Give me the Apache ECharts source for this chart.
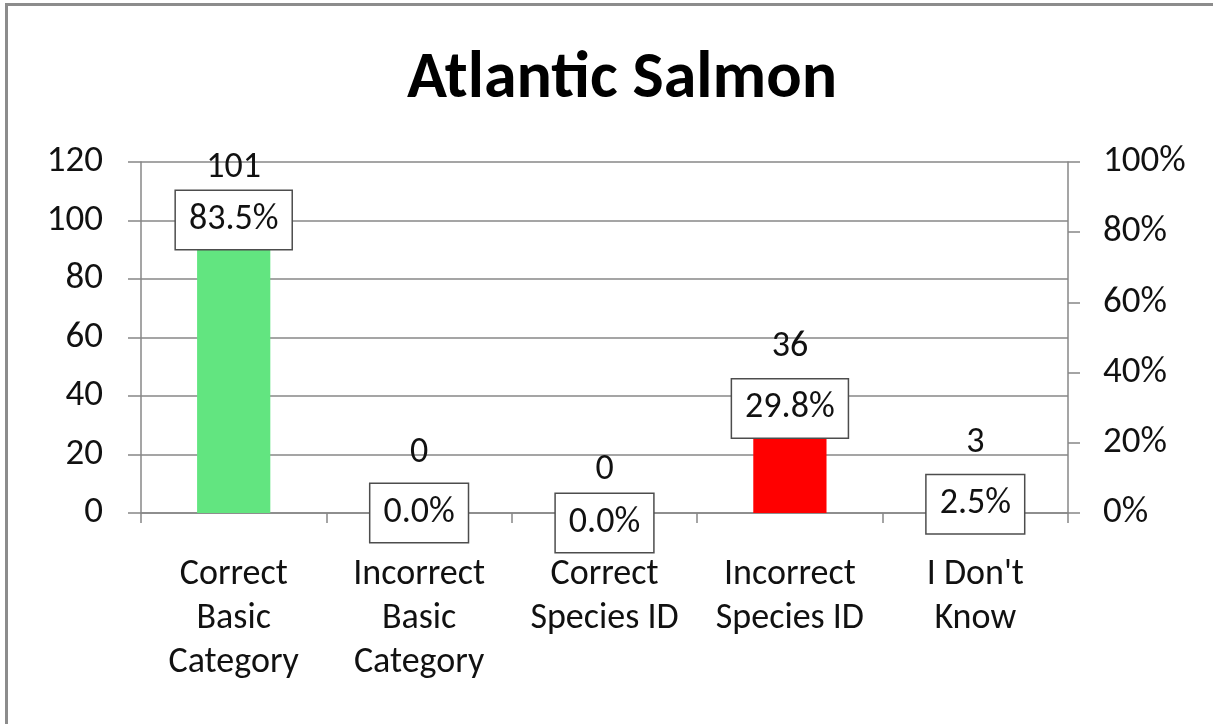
<!DOCTYPE html>
<html>
<head>
<meta charset="utf-8">
<title>Atlantic Salmon</title>
<script src="https://cdn.jsdelivr.net/npm/echarts@6/dist/echarts.min.js"></script>
<style>
  html, body { margin: 0; padding: 0; background: #fff; }
  #chart { width: 1213px; height: 724px; }
</style>
</head>
<body>
<div id="chart"></div>
<script>
// Response categories
const categories = [
  'Correct\nBasic\nCategory',
  'Incorrect\nBasic\nCategory',
  'Correct\nSpecies ID',
  'Incorrect\nSpecies ID',
  "I Don't\nKnow"
];
// Number of responses per category
const counts = [101, 0, 0, 36, 3];
// Share of respondents per category (%)
const percents = [83.5, 0.0, 0.0, 29.8, 2.5];
// Bar colours per category
const barColors = ['#62E580', '#62E580', '#62E580', '#FF0000', '#62E580'];
// Axis ticks
const countTicks = { min: 0, max: 120, interval: 20 };
const percentTicks = { min: 0, max: 100, interval: 20 };

const FONT = 'Carlito, Calibri, Lato, "Noto Sans", sans-serif';
const GRID_GRAY = '#878787';
const TEXT = '#111111';
// vertical label nudges (px) so boxes and counts don't collide
const countLift = [-52, -60, -43, -61, -61];
const boxDrop = [0, 0, 10, 0, 0];

const chart = echarts.init(document.getElementById('chart'), null, { renderer: 'canvas' });

chart.setOption({
  backgroundColor: '#ffffff',
  animation: false,
  textStyle: { fontFamily: FONT },
  title: {
    text: 'Atlantic Salmon',
    left: 617,
    textAlign: 'center',
    top: 42,
    textStyle: { fontFamily: FONT, fontSize: 66, fontWeight: 'bold', color: '#000' }
  },
  graphic: [{
    type: 'polyline',
    shape: { points: [[6.5, 724], [6.5, 4.5], [1213, 4.5]] },
    style: { stroke: '#8c8c8c', lineWidth: 3, fill: null },
    z: 100
  }],
  grid: { left: 141, right: 145, top: 162, bottom: 211 },
  xAxis: {
    type: 'category',
    data: categories,
    boundaryGap: true,
    axisLine: { show: true, lineStyle: { color: GRID_GRAY, width: 1.5 } },
    axisTick: { show: true, alignWithLabel: false, length: 10, lineStyle: { color: GRID_GRAY, width: 1.5 } },
    axisLabel: { interval: 0, margin: 40, fontSize: 36, lineHeight: 44, color: TEXT, fontFamily: FONT }
  },
  yAxis: [{
    type: 'value',
    min: countTicks.min, max: countTicks.max, interval: countTicks.interval,
    position: 'left',
    axisLine: { show: true, lineStyle: { color: GRID_GRAY, width: 1.5 } },
    axisTick: { show: true, length: 13, lineStyle: { color: GRID_GRAY, width: 1.5 } },
    axisLabel: { margin: 38, fontSize: 37, color: TEXT, fontFamily: FONT },
    splitLine: { show: true, lineStyle: { color: GRID_GRAY, width: 1.5 } }
  }, {
    type: 'value',
    min: percentTicks.min, max: percentTicks.max, interval: percentTicks.interval,
    position: 'right',
    axisLine: { show: true, lineStyle: { color: GRID_GRAY, width: 1.5 } },
    axisTick: { show: true, length: 12, lineStyle: { color: GRID_GRAY, width: 1.5 } },
    axisLabel: { margin: 35, fontSize: 37, color: TEXT, fontFamily: FONT, formatter: '{value}%' },
    splitLine: { show: false }
  }],
  series: [{
    name: 'Responses',
    type: 'bar',
    yAxisIndex: 0,
    barWidth: '39.5%',
    data: counts.map((v, i) => ({ value: v, itemStyle: { color: barColors[i] } })),
    z: 2
  }, {
    // count labels sitting above the percentage boxes
    name: 'Count labels',
    type: 'scatter',
    yAxisIndex: 1,
    symbolSize: 0,
    itemStyle: { opacity: 1 },
    data: percents.map((p, i) => ({
      value: p,
      label: { offset: [0, countLift[i]] }
    })),
    label: {
      show: true,
      position: 'inside',
      opacity: 1,
      fontSize: 36,
      color: TEXT,
      fontFamily: FONT,
      formatter: (p) => String(counts[p.dataIndex])
    },
    silent: true,
    z: 5
  }, {
    // boxed percentage labels
    name: 'Percent',
    type: 'scatter',
    yAxisIndex: 1,
    symbolSize: 0,
    itemStyle: { opacity: 1 },
    data: percents.map((p, i) => ({
      value: p,
      label: { offset: [0, boxDrop[i]] }
    })),
    label: {
      show: true,
      position: 'inside',
      opacity: 1,
      fontSize: 36,
      lineHeight: 36,
      color: TEXT,
      fontFamily: FONT,
      backgroundColor: '#ffffff',
      borderColor: '#4d4d4d',
      borderWidth: 1.5,
      padding: [11, 13, 11, 13],
      formatter: (p) => p.value.toFixed(1) + '%'
    },
    silent: true,
    z: 6
  }]
});
</script>
</body>
</html>
